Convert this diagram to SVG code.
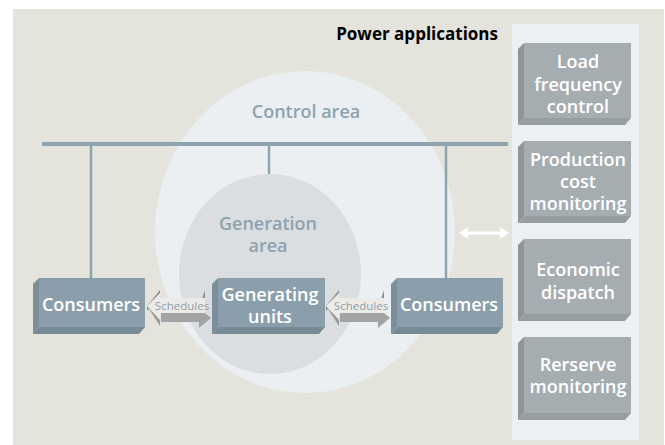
<svg xmlns="http://www.w3.org/2000/svg" width="665" height="445" viewBox="0 0 665 445">
<style>
.t{font-family:"Open Sans","Liberation Sans",sans-serif;}
.box-front{fill:#8a9fab;}
.box-left{fill:#7b8f9b;}
.box-bot{fill:#778b97;}
.app-front{fill:#a6adb1;}
.app-left{fill:#8e9599;}
.app-bot{fill:#979ea2;}
.boxtxt{font-family:"Open Sans","Liberation Sans",sans-serif;font-weight:600;font-size:18px;fill:#ffffff;text-anchor:middle;}
.area{font-family:"Open Sans","Liberation Sans",sans-serif;font-weight:600;font-size:18px;fill:#8da2af;text-anchor:middle;}
.sched{font-family:"Open Sans","Liberation Sans",sans-serif;font-size:11.5px;fill:#8e9ea9;text-anchor:middle;}
.bus{stroke:#8fa3ae;fill:none;}
</style>
<rect x="13" y="9" width="651" height="436" fill="#e4e3dc"/>

<g id="power-applications">
  <rect x="512" y="24" width="127" height="416" fill="#edf0f3"/>
  <text x="498" y="40" class="t" font-weight="700" font-size="17" fill="#000000" text-anchor="end">Power applications</text>
</g>

<g id="control-area">
  <ellipse cx="305" cy="232" rx="150" ry="161" fill="#ebeff2"/>
  <text x="306" y="118" class="area">Control area</text>
</g>

<g id="connectors">
  <line class="bus" x1="42" y1="144" x2="508" y2="144" stroke-width="4"/>
  <line class="bus" x1="91" y1="144" x2="91" y2="278" stroke-width="2.5"/>
  <line class="bus" x1="269" y1="144" x2="269" y2="176" stroke-width="2.5"/>
  <line class="bus" x1="446" y1="144" x2="446" y2="278" stroke-width="2.5"/>
</g>

<g id="generation-area">
  <ellipse cx="270" cy="274" rx="91" ry="100" fill="#dadee1"/>
  <text class="area"><tspan x="268" y="230">Generation</tspan><tspan x="268" y="252">area</tspan></text>
</g>

<g id="consumers-left">
  <polygon class="box-left" points="33,284 39,278 39,327 33,334"/>
  <polygon class="box-bot" points="33,334 39,327 145,327 139,334"/>
  <rect class="box-front" x="39" y="278" width="106" height="49"/>
  <text class="boxtxt" x="91" y="311">Consumers</text>
</g>

<g id="generating-units">
  <polygon class="box-left" points="212,284 218,278 218,327 212,334"/>
  <polygon class="box-bot" points="212,334 218,327 325,327 319,334"/>
  <rect class="box-front" x="218" y="278" width="107" height="49"/>
  <text class="boxtxt"><tspan x="270" y="301">Generating</tspan><tspan x="270" y="323">units</tspan></text>
</g>

<g id="consumers-right">
  <polygon class="box-left" points="391,284 397,278 397,327 391,334"/>
  <polygon class="box-bot" points="391,334 397,327 503,327 497,334"/>
  <rect class="box-front" x="397" y="278" width="106" height="49"/>
  <text class="boxtxt" x="449" y="311">Consumers</text>
</g>

<g id="schedule-arrows">
  <g id="schedules-left">
    <polygon fill="#8f8f8f" points="147,306 160,290 160,296 147,311"/>
    <polygon fill="#9a9a9a" points="147,306 160,326 160,320"/>
    <polygon fill="#a3a3a3" points="161,313 199,313 199,308 211,318 199,328 199,322 161,322"/>
    <polygon fill="#8f8f8f" points="199,308 205,290 205,298 199,314"/>
    <polygon fill="#ecebe8" points="147,306 160,293 160,298 205,298 205,313 160,313 160,319"/>
    <text class="sched" x="182" y="310">Schedules</text>
  </g>
  <g id="schedules-right">
    <polygon fill="#8f8f8f" points="326,306 339,290 339,296 326,311"/>
    <polygon fill="#9a9a9a" points="326,306 339,326 339,320"/>
    <polygon fill="#a3a3a3" points="340,313 378,313 378,308 390,318 378,328 378,322 340,322"/>
    <polygon fill="#8f8f8f" points="378,308 384,290 384,298 378,314"/>
    <polygon fill="#ecebe8" points="326,306 339,293 339,298 384,298 384,313 339,313 339,319"/>
    <text class="sched" x="361" y="310">Schedules</text>
  </g>
  <g id="panel-link">
    <line x1="465" y1="233" x2="503" y2="233" stroke="#ffffff" stroke-width="3"/>
    <polygon fill="#ffffff" points="459,233 468,227 468,239"/>
    <polygon fill="#ffffff" points="509,233 500,227 500,239"/>
  </g>
</g>

<g id="load-frequency-control">
  <polygon class="app-left" points="518,49 524,43 524,118 518,125"/>
  <polygon class="app-bot" points="518,125 524,118 631,118 625,125"/>
  <rect class="app-front" x="524" y="43" width="107" height="75"/>
  <text class="boxtxt"><tspan x="578" y="68">Load</tspan><tspan x="578" y="91">frequency</tspan><tspan x="578" y="113">control</tspan></text>
</g>

<g id="production-cost-monitoring">
  <polygon class="app-left" points="518,147 524,141 524,216 518,223"/>
  <polygon class="app-bot" points="518,223 524,216 631,216 625,223"/>
  <rect class="app-front" x="524" y="141" width="107" height="75"/>
  <text class="boxtxt"><tspan x="578" y="166">Production</tspan><tspan x="578" y="188">cost</tspan><tspan x="578" y="210">monitoring</tspan></text>
</g>

<g id="economic-dispatch">
  <polygon class="app-left" points="518,245 524,239 524,314 518,321"/>
  <polygon class="app-bot" points="518,321 524,314 631,314 625,321"/>
  <rect class="app-front" x="524" y="239" width="107" height="75"/>
  <text class="boxtxt"><tspan x="578" y="276">Economic</tspan><tspan x="578" y="299">dispatch</tspan></text>
</g>

<g id="reserve-monitoring">
  <polygon class="app-left" points="518,343 524,337 524,413 518,420"/>
  <polygon class="app-bot" points="518,420 524,413 631,413 625,420"/>
  <rect class="app-front" x="524" y="337" width="107" height="76"/>
  <text class="boxtxt"><tspan x="578" y="371">Rerserve</tspan><tspan x="578" y="393">monitoring</tspan></text>
</g>
</svg>
